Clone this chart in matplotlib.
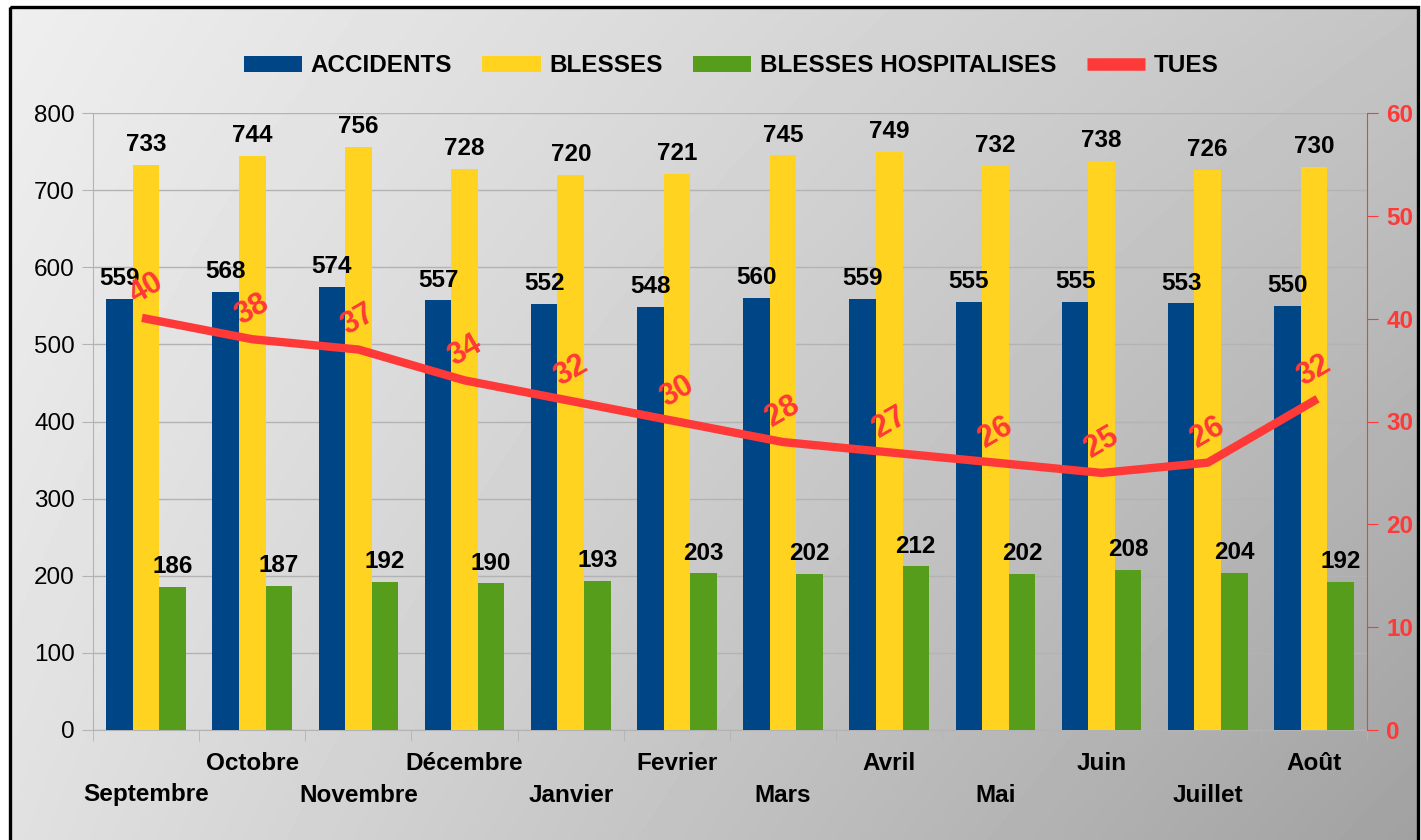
"""
Accidents de la route par mois — barres (accidents, blessés, hospitalisés)
et courbe des tués sur un axe secondaire.

Sortie: out.png
"""

import numpy as np
import matplotlib
matplotlib.use("Agg")
import matplotlib.pyplot as plt
from matplotlib.lines import Line2D
from matplotlib.patches import Rectangle

# Données mensuelles
MOIS = ["Septembre", "Octobre", "Novembre", "Décembre", "Janvier", "Fevrier",
        "Mars", "Avril", "Mai", "Juin", "Juillet", "Août"]
ACCIDENTS = [559, 568, 574, 557, 552, 548, 560, 559, 555, 555, 553, 550]
BLESSES = [733, 744, 756, 728, 720, 721, 745, 749, 732, 738, 726, 730]
HOSPITALISES = [186, 187, 192, 190, 193, 203, 202, 212, 202, 208, 204, 192]
TUES = [40, 38, 37, 34, 32, 30, 28, 27, 26, 25, 26, 32]

BLEU = "#004586"
JAUNE = "#ffd320"
VERT = "#579d1c"
ROUGE = "#ff3838"
GRIS = "#b3b3b3"

W, H = 1421, 840
FS = 17.5

plt.rcParams["font.family"] = ["Liberation Sans", "DejaVu Sans"]

fig = plt.figure(figsize=(W / 100, H / 100), dpi=100)

# fond en dégradé + cadre noir
bg = fig.add_axes([0, 0, 1, 1], zorder=-10)
bg.set_xlim(0, W)
bg.set_ylim(H, 0)
bg.axis("off")
tl, tr, bl, br = 0.935, 0.77, 0.88, 0.63
u = np.linspace(0, 1, 200)[None, :]
v = np.linspace(0, 1, 120)[:, None]
grad = tl * (1 - u) * (1 - v) + tr * u * (1 - v) + bl * (1 - u) * v + br * u * v
bg.imshow(grad, cmap="gray", vmin=0, vmax=1, extent=(11, 1418, 850, 8),
          aspect="auto", interpolation="bilinear")
bg.add_patch(Rectangle((10, 7), 1408, 850, fill=False, edgecolor="black", lw=2.4))

# zone de tracé
ax = fig.add_axes([93 / W, 1 - 730 / H, (1367 - 93) / W, (730 - 113) / H])
ax.set_facecolor("none")
x = np.arange(len(MOIS))
bw = 0.25

b1 = ax.bar(x - bw, ACCIDENTS, bw, color=BLEU, zorder=3)
b2 = ax.bar(x, BLESSES, bw, color=JAUNE, zorder=3)
b3 = ax.bar(x + bw, HOSPITALISES, bw, color=VERT, zorder=3)

for bars, vals in [(b1, ACCIDENTS), (b2, BLESSES), (b3, HOSPITALISES)]:
    for rect, val in zip(bars, vals):
        ax.annotate(str(val), (rect.get_x() + rect.get_width() / 2, val),
                    xytext=(0, 10), textcoords="offset points",
                    ha="center", va="baseline", fontsize=FS,
                    fontweight="bold", color="black", zorder=4)

ax.set_xlim(-0.5, len(MOIS) - 0.5)
ax.set_ylim(0, 800)
ax.set_yticks(range(0, 801, 100))
ax.yaxis.grid(True, color=GRIS, lw=1, zorder=0)
ax.tick_params(axis="y", length=8, color=GRIS, pad=5, labelsize=FS)
for s in ["top", "right"]:
    ax.spines[s].set_visible(False)
for s in ["left", "bottom"]:
    ax.spines[s].set_color(GRIS)

# graduations entre les groupes, libellés des mois sur deux rangées
ax.set_xticks(np.arange(-0.5, len(MOIS), 1.0), minor=True)
ax.set_xticks([])
ax.tick_params(axis="x", which="minor", length=8, color=GRIS)
for i, mois in enumerate(MOIS):
    dy = -65 if i % 2 == 0 else -34
    ax.annotate(mois, (i, 0), xytext=(0, dy * 0.72), textcoords="offset points",
                ha="center", va="center", fontsize=FS, fontweight="bold",
                annotation_clip=False)

# axe secondaire: tués
ax2 = ax.twinx()
ax2.set_ylim(0, 60)
ax2.set_yticks(range(0, 61, 10))
ax2.plot(x, TUES, color=ROUGE, lw=6, solid_joinstyle="round", zorder=5)
for xi, val in zip(x, TUES):
    # étiquette inclinée, ~30 px au-dessus du point
    ax2.text(xi, val + 30 * 60 / 617, str(val), rotation=30,
             rotation_mode="anchor", ha="center", va="center", fontsize=22,
             fontweight="bold", color=ROUGE, zorder=6)
for s in ["top", "left", "bottom"]:
    ax2.spines[s].set_visible(False)
ax2.spines["right"].set_color(ROUGE)
ax2.tick_params(axis="y", length=8, color=ROUGE, pad=6, labelsize=FS,
                labelcolor=ROUGE)
for lab in ax2.get_yticklabels():
    lab.set_fontweight("bold")

# légende
handles = [b1, b2, b3,
           Line2D([], [], color=ROUGE, lw=9, solid_capstyle="butt")]
labels = ["ACCIDENTS", "BLESSES", "BLESSES HOSPITALISES", "TUES"]
leg = fig.legend(handles, labels, loc="center", bbox_to_anchor=(731 / W, 1 - 66 / H),
                 ncol=4, frameon=False, handlelength=2.4, handleheight=0.65,
                 handletextpad=0.35, columnspacing=1.25,
                 prop={"size": FS, "weight": "bold"})

fig.savefig("out.png", dpi=100)
